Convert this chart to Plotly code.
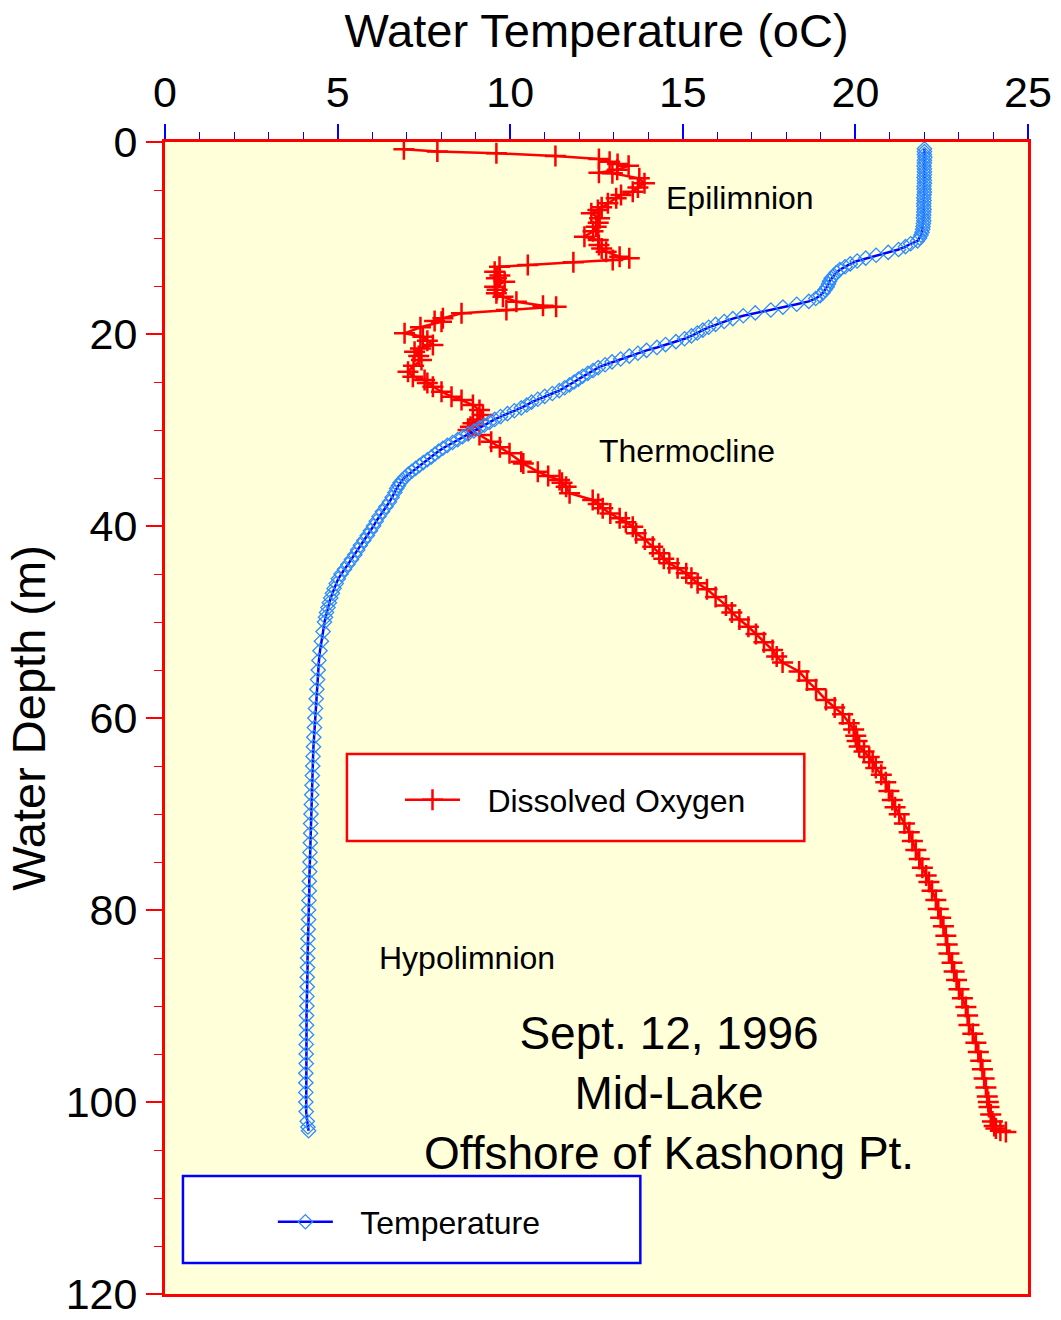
import plotly.graph_objects as go

# ---------------- data ----------------
temp_depth = [0.7, 1.0, 1.3, 1.6, 1.9, 2.2, 2.5, 2.8, 3.1, 3.4, 3.7, 4.0, 4.3, 4.6, 4.9, 5.2, 5.5, 5.8,
              6.1, 6.4, 6.7, 7.0, 7.3, 7.6, 7.9, 8.2, 8.5, 8.8, 9.1, 9.4, 9.7, 10.0, 10.3, 10.6, 10.9,
              11.2, 11.5, 11.8, 12.1, 12.4, 12.7, 13.0, 13.3, 13.6, 13.9, 14.2, 14.5, 14.8, 15.1, 15.4,
              15.7, 16.0, 16.3, 16.6, 16.9, 17.2, 17.5, 17.8, 18.1, 18.4, 18.7, 19.0, 19.3, 19.6, 19.9,
              20.2, 20.5, 20.8, 21.1, 21.4, 21.7, 22.0, 22.3, 22.6, 22.9, 23.2, 23.5, 23.8, 24.1, 24.4,
              24.7, 25.0, 25.3, 25.6, 25.9, 26.2, 26.5, 26.8, 27.1, 27.4, 27.7, 28.0, 28.3, 28.6, 28.9,
              29.2, 29.5, 29.8, 30.1, 30.4, 30.7, 31.0, 31.3, 31.6, 31.9, 32.2, 32.5, 32.8, 33.1, 33.4,
              33.7, 34.0, 34.3, 34.6, 34.9, 35.2, 35.5, 35.8, 36.1, 36.5, 37.0, 37.5, 38.0, 38.5, 39.0,
              39.5, 40.0, 40.5, 41.0, 41.5, 42.0, 42.5, 43.0, 43.5, 44.0, 44.5, 45.0, 45.5, 46.0, 46.5,
              47.0, 47.5, 48.0, 48.5, 49.0, 49.5, 50.0, 51, 52, 53, 54, 55, 56, 57, 58, 59, 60, 61, 62,
              63, 64, 65, 66, 67, 68, 69, 70, 71, 72, 73, 74, 75, 76, 77, 78, 79, 80, 81, 82, 83, 84,
              85, 86, 87, 88, 89, 90, 91, 92, 93, 94, 95, 96, 97, 98, 99, 100, 101, 102, 102.6, 103.0]
temp_value = [22.0, 22.0, 22.0, 22.01, 22.0, 22.0, 21.99, 22.0, 22.0, 22.0, 21.99, 22.0, 22.0, 21.99,
              21.99, 22.0, 21.99, 21.98, 21.99, 21.98, 21.98, 21.99, 21.98, 21.98, 21.97, 21.98, 21.97,
              21.96, 21.95, 21.93, 21.9, 21.86, 21.8, 21.6, 21.45, 21.25, 20.95, 20.6, 20.3, 20.05,
              19.85, 19.7, 19.55, 19.45, 19.38, 19.3, 19.25, 19.22, 19.18, 19.12, 19.06, 18.98, 18.85,
              18.65, 18.3, 17.9, 17.55, 17.1, 16.75, 16.45, 16.2, 15.95, 15.75, 15.58, 15.42, 15.25,
              15.05, 14.8, 14.5, 14.25, 13.95, 13.7, 13.45, 13.2, 12.95, 12.75, 12.55, 12.4, 12.25,
              12.1, 11.98, 11.85, 11.72, 11.58, 11.42, 11.22, 11.0, 10.8, 10.62, 10.48, 10.32, 10.12,
              9.92, 9.72, 9.55, 9.4, 9.25, 9.1, 8.95, 8.78, 8.62, 8.48, 8.33, 8.18, 8.05, 7.93, 7.82,
              7.72, 7.6, 7.48, 7.37, 7.26, 7.15, 7.05, 6.96, 6.88, 6.81, 6.76, 6.71, 6.66, 6.58, 6.5,
              6.4, 6.3, 6.2, 6.12, 6.04, 5.95, 5.86, 5.76, 5.66, 5.58, 5.5, 5.4, 5.3, 5.2, 5.1, 5.02,
              4.96, 4.9, 4.85, 4.8, 4.76, 4.72, 4.68, 4.65, 4.62, 4.58, 4.53, 4.49, 4.46, 4.44, 4.42,
              4.4, 4.38, 4.36, 4.34, 4.33, 4.31, 4.3, 4.29, 4.28, 4.27, 4.26, 4.25, 4.24, 4.23, 4.22,
              4.22, 4.21, 4.2, 4.2, 4.19, 4.18, 4.18, 4.17, 4.16, 4.16, 4.15, 4.14, 4.14, 4.13, 4.13,
              4.12, 4.12, 4.11, 4.11, 4.1, 4.1, 4.1, 4.09, 4.09, 4.09, 4.08, 4.08, 4.08, 4.08, 4.09,
              4.12, 4.14, 4.16]

do_depth = [0.76, 0.99, 1.18, 1.46, 1.77, 2.05, 2.29, 2.47, 2.9, 3.20, 3.26, 3.78, 4.30, 4.75, 5.18,
            5.52, 5.86, 6.39, 6.8, 7.08, 7.43, 7.95, 8.4, 8.82, 9.3, 9.86, 10.2, 10.73, 11.1, 11.43,
            11.95, 12.11, 12.29, 12.53, 12.81, 12.99, 13.51, 13.9, 14.20, 14.55, 15.07, 15.4, 15.76,
            16.11, 16.64, 17.05, 17.16, 17.50, 17.84, 18.36, 18.65, 18.72, 19.3, 19.93, 20.28, 20.7,
            21.15, 21.5, 21.84, 22.3, 22.71, 23.3, 23.93, 24.45, 24.79, 25.1, 25.49, 26.01, 26.53,
            26.88, 27.40, 27.92, 28.44, 28.9, 29.30, 29.65, 30.0, 30.52, 31.22, 31.8, 32.43, 33.30,
            33.5, 34.34, 34.8, 35.21, 35.5, 35.91, 36.59, 37.29, 37.7, 38.16, 38.7, 39.20, 39.6,
            40.07, 40.76, 41.4, 42.16, 42.84, 43.4, 43.89, 44.4, 44.93, 45.4, 45.97, 46.6, 47.4,
            48.27, 49.0, 49.75, 50.5, 51.24, 52.1, 52.92, 53.6, 54.22, 55.15, 56.1, 57.0, 58.13,
            58.9, 59.61, 60.54, 61.2, 61.84, 62.4, 62.96, 63.5, 64.07, 64.6, 65.2, 65.9, 66.68,
            67.6, 68.54, 69.3, 70.03, 71.0, 71.89, 72.8, 73.75, 74.7, 75.61, 76.4, 77.09, 78.0,
            78.96, 79.9, 80.82, 81.7, 82.68, 83.6, 84.54, 85.5, 86.40, 87.3, 88.26, 89.2, 90.11,
            91.0, 91.98, 92.9, 93.84, 94.8, 95.70, 96.6, 97.56, 98.5, 99.42, 100.0, 100.53, 101.3,
            102.02, 102.5, 102.77, 103.0, 103.13]
do_value = [6.92, 7.89, 9.60, 11.31, 12.57, 12.88, 13.11, 13.43, 13.1, 12.57, 12.96, 13.74, 13.89,
            13.7, 13.55, 13.21, 13.07, 12.83, 12.65, 12.54, 12.35, 12.59, 12.55, 12.49, 12.4, 12.15,
            12.55, 12.57, 12.65, 12.78, 13.17, 13.45, 12.97, 11.83, 10.51, 9.69, 9.55, 9.7, 9.60,
            9.84, 9.55, 9.62, 9.60, 9.79, 10.18, 10.95, 11.33, 9.89, 8.59, 8.05, 7.81, 8.01, 7.4,
            6.94, 7.47, 7.6, 7.76, 7.4, 7.23, 7.35, 7.43, 7.2, 7.04, 7.18, 7.52, 7.6, 7.76, 8.01,
            8.30, 8.59, 8.92, 9.11, 9.21, 9.05, 8.92, 8.85, 8.78, 9.11, 9.45, 9.7, 9.98, 10.32,
            10.38, 10.80, 11.1, 11.43, 11.5, 11.62, 11.72, 12.39, 12.55, 12.68, 12.9, 13.17, 13.35,
            13.55, 13.65, 13.9, 14.13, 14.32, 14.45, 14.61, 14.85, 15.10, 15.25, 15.43, 15.7, 15.95,
            16.25, 16.42, 16.64, 16.9, 17.12, 17.35, 17.60, 17.72, 17.89, 18.37, 18.6, 18.86, 19.15,
            19.4, 19.63, 19.82, 19.95, 20.01, 20.05, 20.11, 20.25, 20.40, 20.5, 20.59, 20.75, 20.88,
            20.97, 21.07, 21.15, 21.27, 21.42, 21.56, 21.65, 21.75, 21.85, 21.94, 22.05, 22.13,
            22.22, 22.33, 22.4, 22.47, 22.55, 22.62, 22.66, 22.71, 22.8, 22.86, 22.93, 23.0, 23.1,
            23.2, 23.25, 23.29, 23.4, 23.49, 23.56, 23.63, 23.68, 23.73, 23.78, 23.82, 23.85, 23.87,
            23.92, 23.97, 24.02, 24.07, 24.2, 24.36]

x_title = "Water Temperature (oC)"
y_title = "Water Depth (m)"
series_names = ["Dissolved Oxygen", "Temperature"]
zone_labels = ["Epilimnion", "Thermocline", "Hypolimnion"]
zone_x = [14.45, 12.5, 6.13]
zone_y = [5.8, 32.2, 85.0]
site_text = ["Sept. 12, 1996", "Mid-Lake", "Offshore of Kashong Pt."]

FONT = "Liberation Sans, Arial, sans-serif"
GAP = "\u2002\u2009"  # extra gap between legend symbol and text

fig = go.Figure()

fig.add_trace(go.Scatter(
    x=do_value, y=do_depth, name=GAP + series_names[0], mode="lines+markers",
    line=dict(color="#FF0000", width=2.5),
    marker=dict(symbol="cross-thin", size=15, color="#FF0000",
                line=dict(color="#FF0000", width=2.5)),
    legend="legend",
))
fig.add_trace(go.Scatter(
    x=temp_value, y=temp_depth, name=GAP + series_names[1], mode="lines+markers",
    line=dict(color="#0000FF", width=2.5),
    marker=dict(symbol="diamond-open", size=11, color="#2E8BFF",
                line=dict(color="#2E8BFF", width=1.3)),
    legend="legend2",
))

# legend boxes
fig.add_shape(type="rect", xref="x", yref="y", x0=5.27, x1=18.52, y0=63.75, y1=72.8,
              line=dict(color="#FF0000", width=2.5), fillcolor="white", layer="below")
fig.add_shape(type="rect", xref="x", yref="y", x0=0.52, x1=13.77, y0=107.7, y1=116.77,
              line=dict(color="#0000FF", width=2.5), fillcolor="white", layer="below")

for t, xx, yy in zip(zone_labels, zone_x, zone_y):
    fig.add_annotation(x=xx, y=yy, xref="x", yref="y", text=t, showarrow=False,
                       xanchor="left", yanchor="middle",
                       font=dict(family=FONT, size=32, color="black"))

fig.add_annotation(x=14.6, y=99.1, xref="x", yref="y", text="<br>".join(site_text),
                   showarrow=False, xanchor="center", yanchor="middle", align="center",
                   font=dict(family=FONT, size=46, color="black"))

fig.update_layout(
    width=1061, height=1320,
    margin=dict(l=165, r=33, t=142, b=26, autoexpand=False),
    paper_bgcolor="white", plot_bgcolor="#FFFFD9",
    font=dict(family=FONT, color="black"),
    showlegend=True,
    legend=dict(x=0.2723, y=0.4288, xanchor="left", yanchor="middle",
                bgcolor="rgba(0,0,0,0)", borderwidth=0, itemwidth=55,
                font=dict(family=FONT, size=32, color="black")),
    legend2=dict(x=0.125, y=0.0625, xanchor="left", yanchor="middle",
                 bgcolor="rgba(0,0,0,0)", borderwidth=0, itemwidth=55,
                 font=dict(family=FONT, size=32, color="black")),
    xaxis=dict(
        side="top", range=[0, 25], dtick=5, tick0=0,
        ticks="outside", ticklen=15, tickwidth=1.5, tickcolor="#0000FF",
        minor=dict(dtick=1, ticks="outside", ticklen=7, tickwidth=1.2, tickcolor="#0000FF"),
        showline=True, linecolor="#FF0000", linewidth=3, mirror=True,
        showgrid=False, zeroline=False,
        tickfont=dict(family=FONT, size=43, color="black"),
        title=dict(text=x_title, font=dict(family=FONT, size=47, color="black"), standoff=6),
    ),
    yaxis=dict(
        range=[120, 0], dtick=20, tick0=0,
        ticks="outside", ticklen=16, tickwidth=1.5, tickcolor="#FF0000",
        minor=dict(dtick=5, ticks="outside", ticklen=8, tickwidth=1.2, tickcolor="#FF0000"),
        showline=True, linecolor="#FF0000", linewidth=3, mirror=True,
        showgrid=False, zeroline=False,
        tickfont=dict(family=FONT, size=43, color="black"),
        title=dict(text=y_title, font=dict(family=FONT, size=47, color="black"), standoff=6),
    ),
)

fig.write_html("out.html")
